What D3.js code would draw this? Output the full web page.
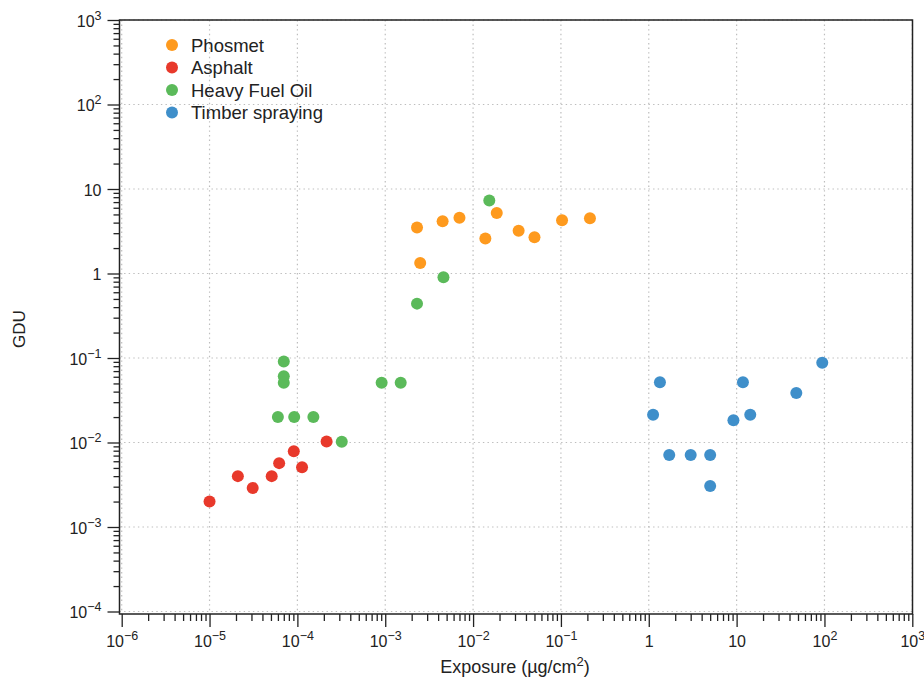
<!DOCTYPE html>
<html>
<head>
<meta charset="utf-8">
<script src="https://cdn.jsdelivr.net/npm/d3@7"></script>
<style>
    body { margin: 0; background: #fff; }
    svg { font-family: "Liberation Sans", Arial, sans-serif; }
    .grid line { stroke: #bdbdbd; stroke-width: 1.2; stroke-dasharray: 1.4 3.2; }
    .tick text { fill: #222; font-size: 16px; }
</style>
</head>
<body>
<svg id="chart" width="924" height="679"></svg>
<script>
// Series (x: exposure µg/cm², y: GDU)
const phosmetX = [0.0023, 0.0025, 0.0045, 0.007, 0.0138, 0.0186, 0.033, 0.05, 0.103, 0.214];
const phosmetY = [3.5, 1.33, 4.15, 4.57, 2.6, 5.2, 3.2, 2.68, 4.26, 4.5];

const asphaltX = [1.0e-5, 2.1e-5, 3.1e-5, 5.1e-5, 6.2e-5, 9.1e-5, 1.13e-4, 2.15e-4];
const asphaltY = [0.002, 0.004, 0.0029, 0.004, 0.0057, 0.0079, 0.0051, 0.0103];

const hfoX = [7e-5, 7e-5, 7e-5, 6e-5, 9.2e-5, 1.52e-4, 3.2e-4, 9.1e-4, 1.5e-3, 0.0153, 0.0046, 0.0023];
const hfoY = [0.091, 0.061, 0.051, 0.02, 0.02, 0.02, 0.0102, 0.051, 0.051, 7.3, 0.9, 0.44];

const timberX = [1.34, 1.12, 1.71, 3.0, 5.0, 5.0, 9.2, 11.8, 14.3, 47.8, 94.4];
const timberY = [0.0515, 0.0213, 0.0071, 0.0071, 0.0071, 0.00305, 0.0183, 0.0515, 0.0213, 0.0385, 0.088];

const seriesNames = ["Phosmet", "Asphalt", "Heavy Fuel Oil", "Timber spraying"];
const seriesColors = ["#fe9a1e", "#e8392b", "#5bba5a", "#3f8fca"];
const seriesData = [
    [phosmetX, phosmetY],
    [asphaltX, asphaltY],
    [hfoX, hfoY],
    [timberX, timberY]
];

const xTicks = [1e-6, 1e-5, 1e-4, 1e-3, 1e-2, 1e-1, 1, 10, 100, 1000];
const yTicks = [1e-4, 1e-3, 1e-2, 1e-1, 1, 10, 100, 1000];

const svg = d3.select("#chart");
const frame = { left: 119.5, right: 912.5, top: 20, bottom: 614 };

const x = d3.scaleLog().domain([1e-6, 1e3]).range([121.7, 912.3]);
const y = d3.scaleLog().domain([1e-4, 1e3]).range([611.5, 20]);

// minor tick values (2..9 per decade)
function minors(lo, hi) {
    const out = [];
    for (let e = lo; e < hi; e++) {
        for (let m = 2; m <= 9; m++) out.push(m * Math.pow(10, e));
    }
    return out;
}
const xMinor = minors(-6, 3);
const yMinor = minors(-4, 3);

// Grid lines at each decade
svg.append("g").attr("class", "grid")
    .selectAll("line")
    .data(xTicks)
    .enter().append("line")
    .attr("x1", d => x(d)).attr("x2", d => x(d))
    .attr("y1", frame.top).attr("y2", frame.bottom);

svg.append("g").attr("class", "grid")
    .selectAll("line")
    .data(yTicks)
    .enter().append("line")
    .attr("x1", frame.left).attr("x2", frame.right)
    .attr("y1", d => y(d)).attr("y2", d => y(d));

// Label "10^n" except 1 and 10
function label(sel) {
    sel.each(function(d) {
        const t = d3.select(this);
        const e = Math.round(Math.log10(d));
        t.text(null);
        if (e === 0) { t.text("1"); return; }
        if (e === 1) { t.text("10"); return; }
        t.append("tspan").text("10");
        t.append("tspan")
            .attr("dy", -7)
            .attr("font-size", 12.5)
            .text(e < 0 ? "\u2212" + (-e) : e);
    });
}

// X axis
const gx = svg.append("g").attr("transform", `translate(0,${frame.bottom})`);
gx.call(d3.axisBottom(x).tickValues(xMinor).tickSize(7).tickFormat(""));
gx.call(g => g.select(".domain").remove());
const gxMaj = svg.append("g").attr("transform", `translate(0,${frame.bottom})`)
    .call(d3.axisBottom(x).tickValues(xTicks).tickSize(13).tickPadding(4).tickFormat(""));
gxMaj.select(".domain").remove();
gxMaj.selectAll(".tick text").call(label).attr("dy", null).attr("y", 32.5);

// Y axis
const gy = svg.append("g").attr("transform", `translate(${frame.left},0)`);
gy.call(d3.axisLeft(y).tickValues(yMinor).tickSize(6).tickFormat(""));
gy.call(g => g.select(".domain").remove());
const gyMaj = svg.append("g").attr("transform", `translate(${frame.left},0)`)
    .call(d3.axisLeft(y).tickValues(yTicks).tickSize(12).tickFormat(""));
gyMaj.select(".domain").remove();
gyMaj.selectAll(".tick text").call(label).attr("x", -18).attr("dy", "0.38em").attr("text-anchor", "end");

svg.selectAll(".tick line").attr("stroke", "#222").attr("stroke-width", 1.3);

// Frame
svg.append("rect")
    .attr("x", frame.left).attr("y", frame.top)
    .attr("width", frame.right - frame.left)
    .attr("height", frame.bottom - frame.top)
    .attr("fill", "none")
    .attr("stroke", "#222")
    .attr("stroke-width", 1.5);

// Axis titles
const xt = svg.append("text")
    .attr("x", 515).attr("y", 673)
    .attr("text-anchor", "middle")
    .attr("font-size", 18).attr("fill", "#222");
xt.append("tspan").text("Exposure (\u00b5g/cm");
xt.append("tspan").attr("dy", -7).attr("font-size", 13).text("2");
xt.append("tspan").attr("dy", 7).text(")");

svg.append("text")
    .attr("transform", "translate(25,329) rotate(-90)")
    .attr("text-anchor", "middle")
    .attr("font-size", 17).attr("fill", "#222")
    .text("GDU");

// Points
seriesData.forEach((s, i) => {
    const pts = s[0].map((v, j) => [v, s[1][j]]);
    svg.append("g").selectAll("circle")
        .data(pts)
        .enter().append("circle")
        .attr("cx", d => x(d[0]))
        .attr("cy", d => y(d[1]))
        .attr("r", 6)
        .attr("fill", seriesColors[i]);
});

// Legend
const legend = svg.append("g").attr("transform", "translate(172,45)");
seriesNames.forEach((name, i) => {
    const row = legend.append("g").attr("transform", `translate(0,${i * 22.5})`);
    row.append("circle").attr("r", 6).attr("fill", seriesColors[i]);
    row.append("text")
        .attr("x", 19).attr("dy", "0.36em")
        .attr("font-size", 18.5).attr("fill", "#222")
        .text(name);
});
</script>
</body>
</html>
